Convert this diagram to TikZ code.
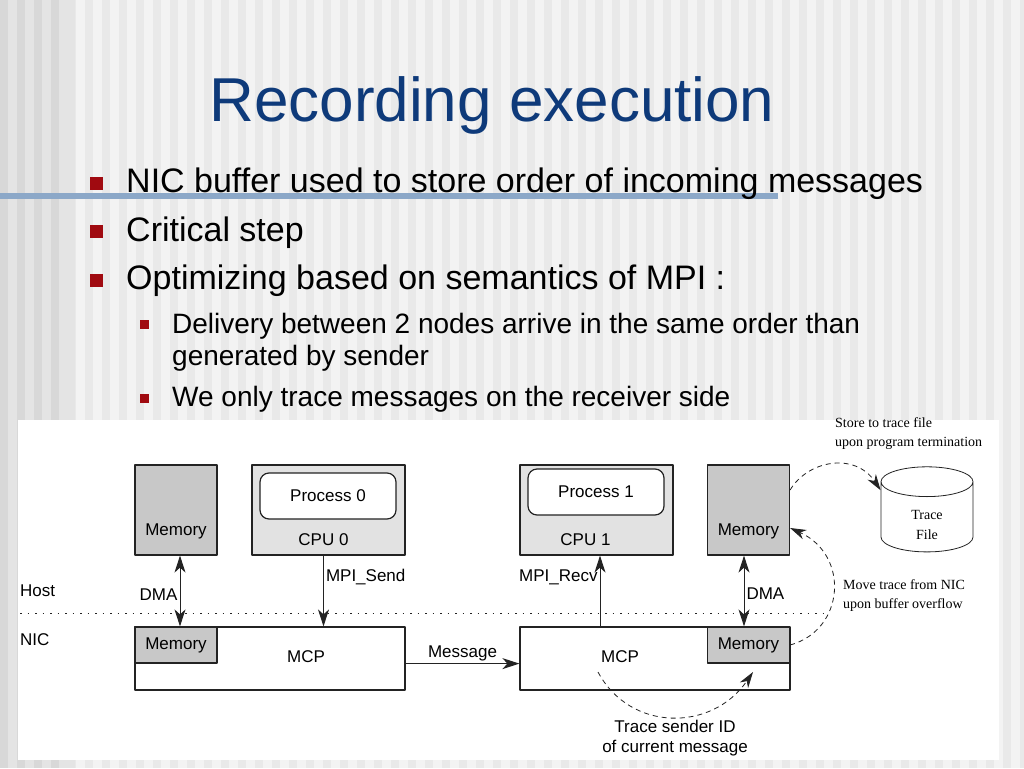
\documentclass[tikz,border=0pt]{standalone}
\usepackage{fontspec}
\setmainfont{Liberation Sans}
\newfontfamily\notefont{Liberation Serif}
\usetikzlibrary{arrows.meta,shapes.geometric}

\definecolor{slidebg}{RGB}{243,243,243}
\definecolor{stripe}{RGB}{233,233,233}
\definecolor{leftbg}{RGB}{228,228,228}
\definecolor{leftstripe}{RGB}{216,216,216}
\definecolor{titleblue}{RGB}{14,58,122}
\definecolor{bulletred}{RGB}{160,10,16}
\definecolor{rulebl}{RGB}{140,168,200}
\definecolor{memgray}{RGB}{200,200,200}
\definecolor{cpugray}{RGB}{226,226,226}
\definecolor{edgegray}{RGB}{35,35,35}

\tikzset{
  box/.style={draw=edgegray,line width=1.2pt,inner sep=0pt},
  membox/.style={box,fill=memgray,minimum width=82pt},
  cpubox/.style={box,fill=cpugray,minimum width=153pt,minimum height=90pt},
  procbox/.style={box,fill=white,rounded corners=9pt,minimum width=136pt,minimum height=46pt,font=\lblfont},
  mcpbox/.style={box,fill=white,minimum width=270pt,minimum height=63pt},
  lbl/.style={font=\lblfont,inner sep=2pt},
  note/.style={font=\notefont\fontsize{14}{19}\selectfont,align=left,inner sep=0pt,anchor=west},
  arr/.style={-{Stealth[length=17pt,width=11pt,inset=5pt]},line width=1pt,draw=edgegray},
  darr/.style={{Stealth[length=17pt,width=11pt,inset=5pt]}-{Stealth[length=17pt,width=11pt,inset=5pt]},line width=1pt,draw=edgegray},
  tracearr/.style={dash pattern=on 5pt off 4pt,-{Stealth[length=16pt,width=10pt,inset=5pt]},line width=0.8pt,draw=edgegray},
  bigtext/.style={font=\fontsize{34}{40}\selectfont,anchor=base west,inner sep=0pt},
  subtext/.style={font=\fontsize{28}{33}\selectfont,anchor=base west,inner sep=0pt,align=left},
}
\newcommand{\lblfont}{\fontsize{17}{20}\selectfont}

\begin{document}
\begin{tikzpicture}[x=1pt,y=-1pt,line join=round]
\useasboundingbox (0,0) rectangle (1024,768);

% slide background
\begin{scope}
\clip (0,0) rectangle (1024,768);
\fill[slidebg] (0,0) rectangle (1024,768);
\foreach \x in {0,17,...,1020}
  \fill[stripe] (\x,0) rectangle ++(8,768);
\fill[leftbg] (0,0) rectangle (75,768);
\foreach \x in {0,17,...,60}
  \fill[leftstripe] (\x,0) rectangle ++(8,768);
\end{scope}
\fill[rulebl] (0,193) rectangle (778,199);

% title and bullets
\node[font=\fontsize{62}{70}\selectfont,text=titleblue,anchor=base,inner sep=0pt] (title) at (492,121) {Recording execution};

\node[fill=bulletred,minimum size=13pt,inner sep=0pt] (b1) at (96.5,183) {};
\node[bigtext] (t1) at (126,192) {NIC buffer used to store order of incoming messages};
\node[fill=bulletred,minimum size=13pt,inner sep=0pt] (b2) at (96.5,231) {};
\node[bigtext] (t2) at (126,241) {Critical step};
\node[fill=bulletred,minimum size=13pt,inner sep=0pt] (b3) at (96.5,280) {};
\node[bigtext] (t3) at (126,289) {Optimizing based on semantics of MPI :};

\node[fill=bulletred,minimum size=9pt,inner sep=0pt] (s1) at (144.5,324.5) {};
\node[subtext] (u1) at (172,333) {Delivery between 2 nodes arrive in the same order than};
\node[subtext] (u1b) at (172,365) {generated by sender};
\node[fill=bulletred,minimum size=9pt,inner sep=0pt] (s2) at (144.5,398.5) {};
\node[subtext] (u2) at (172,406) {We only trace messages on the receiver side};

% figure
\fill[white] (18,420) rectangle (999,760);
\draw[edgegray,line width=0.9pt,dash pattern=on 1.5pt off 6pt] (20,613) -- (830,613);
\node[lbl,anchor=west] (host) at (18,591) {Host};
\node[lbl,anchor=west] (nic) at (18,640) {NIC};

% sender side
\node[membox,minimum height=90pt,label={[lbl,yshift=-21pt]center:Memory}] (hmem0) at (176,510) {};
\node[cpubox,label={[lbl,xshift=-5pt,yshift=-30pt]center:CPU 0}] (cpu0) at (328.5,510) {};
\node[procbox] (proc0) at (328,496) {Process 0};
\node[mcpbox,label={[lbl,xshift=36pt,yshift=2pt]center:MCP}] (mcp0) at (270,658.5) {};
\node[membox,minimum height=36pt,font=\lblfont] (nmem0) at (176,645) {Memory};

% receiver side
\node[cpubox,label={[lbl,xshift=-11pt,yshift=-30pt]center:CPU 1}] (cpu1) at (596.5,510) {};
\node[procbox] (proc1) at (596,492) {Process 1};
\node[membox,minimum height=90pt,label={[lbl,yshift=-21pt]center:Memory}] (hmem1) at (748.5,510) {};
\node[mcpbox,label={[lbl,xshift=-35pt,yshift=2pt]center:MCP}] (mcp1) at (655,658.5) {};
\node[membox,minimum height=36pt,font=\lblfont] (nmem1) at (748.5,645) {Memory};

\node[box,cylinder,shape border rotate=90,aspect=0.95,minimum width=92pt,minimum height=76pt,line width=0.8pt,
  font=\notefont\fontsize{14}{20}\selectfont] (tfile) at (927,517)
  {\raisebox{-8pt}[\height][\depth]{\begin{tabular}{@{}c@{}}Trace\\File\end{tabular}}};

% connectors
\draw[darr] ([xshift=4pt]hmem0.south) -- node[lbl,left,yshift=-4pt] (dma0) {DMA} ([xshift=4pt]nmem0.north);
\draw[arr] ([xshift=-5pt]cpu0.south) -- node[lbl,pos=0.3,right] (send) {MPI\_Send} ([xshift=-5pt]cpu0.south |- mcp0.north);
\draw[arr] (mcp0.east |- nmem0.south) -- node[lbl,above] (msg) {Message} (mcp1.west |- nmem0.south);
\draw[arr] ([xshift=3.5pt]cpu1.south |- mcp1.north) -- node[lbl,pos=0.7,left] (recv) {MPI\_Recv} ([xshift=3.5pt]cpu1.south);
\draw[darr] ([xshift=-4.5pt]hmem1.south) -- node[lbl,right,yshift=-3pt] (dma1) {DMA} ([xshift=-4.5pt]nmem1.north);

% trace paths
\draw[tracearr] ([yshift=20pt]hmem1.east) .. controls (808,460) and (855,452) .. (tfile.150);
\draw[tracearr] (nmem1.east) .. controls (845,630) and (850,555) .. ([yshift=-18pt]hmem1.east);
\coordinate (tstart) at (598,672);
\coordinate (tend) at (753,672);
\draw[tracearr] (tstart) .. controls (630,732) and (712,732) .. (tend);

% notes
\node[note] (store) at (835,434) {Store to trace file\\upon program termination};
\node[note] (move) at (843,596) {Move trace from NIC\\upon buffer overflow};
\node[lbl,align=center,inner sep=0pt] (sender) at (675,738) {Trace sender ID\\of current message};

\end{tikzpicture}
\end{document}
